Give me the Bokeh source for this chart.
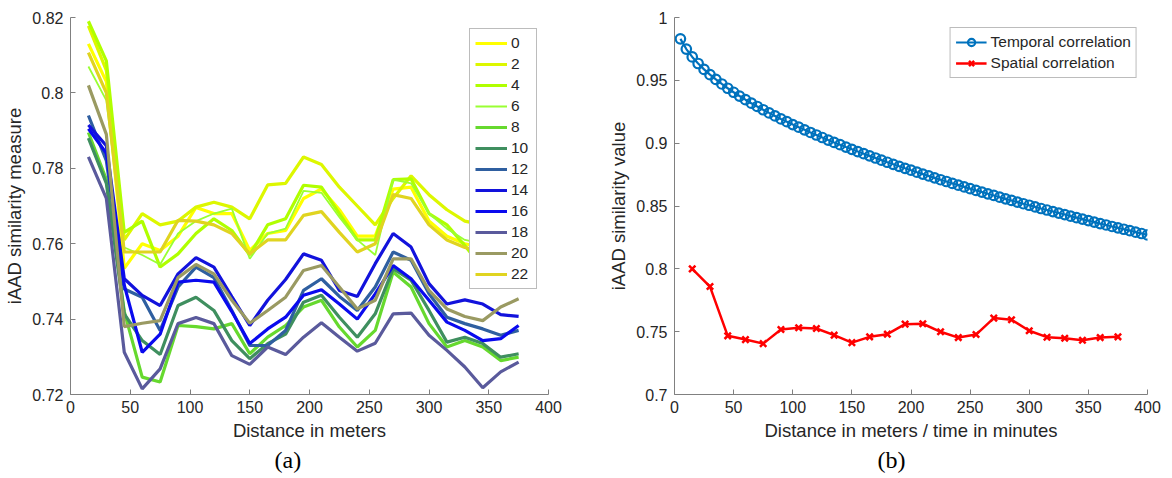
from bokeh.plotting import figure
from bokeh.layouts import row
from bokeh.models import FixedTicker, NumeralTickFormatter, Range1d, Title
from bokeh.embed import file_html
from bokeh.resources import INLINE

# ---------------- data: panel (a) ----------------
dist = [15, 30, 45, 60, 75, 90, 105, 120, 135, 150, 165, 180, 195,
        210, 225, 240, 255, 270, 285, 300, 315, 330, 345, 360, 375]

labels_a = ["0", "2", "4", "6", "8", "10", "12", "14", "16", "18", "20", "22"]

s0 = [0.813, 0.803, 0.7535, 0.760, 0.7582, 0.762, 0.7696, 0.768, 0.768, 0.7582, 0.7627, 0.7635, 0.772,
      0.7745, 0.769, 0.762, 0.762, 0.7745, 0.775, 0.766, 0.762, 0.760, 0.759, 0.758, 0.757]
s2 = [0.8178, 0.806, 0.761, 0.768, 0.765, 0.766, 0.7697, 0.771, 0.7697, 0.7666, 0.7756, 0.776, 0.783,
      0.781, 0.775, 0.770, 0.765, 0.772, 0.778, 0.773, 0.769, 0.766, 0.765, 0.763, 0.762]
s4 = [0.819, 0.8085, 0.763, 0.766, 0.7538, 0.7573, 0.7627, 0.7666, 0.7635, 0.757, 0.765, 0.7666, 0.7755,
      0.775, 0.768, 0.761, 0.761, 0.777, 0.7772, 0.768, 0.765, 0.7595, 0.7535, 0.753, 0.753]
s6 = [0.807, 0.798, 0.759, 0.757, 0.7545, 0.7627, 0.766, 0.768, 0.7693, 0.756, 0.7627, 0.764, 0.774,
      0.7735, 0.767, 0.761, 0.757, 0.777, 0.776, 0.768, 0.764, 0.761, 0.760, 0.759, 0.758]
s8 = [0.7895, 0.777, 0.742, 0.7246, 0.7233, 0.7383, 0.738, 0.7374, 0.7388, 0.7308, 0.7352, 0.7383, 0.7432,
      0.745, 0.7379, 0.7326, 0.737, 0.7525, 0.7485, 0.7388, 0.7326, 0.7343, 0.7326, 0.729, 0.7299]
s10 = [0.788, 0.776, 0.7414, 0.7343, 0.7306, 0.7436, 0.7458, 0.7423, 0.7343, 0.7295, 0.7335, 0.736, 0.7445,
       0.7463, 0.7405, 0.7352, 0.7414, 0.7534, 0.7503, 0.7423, 0.7339, 0.7352, 0.7335, 0.7299, 0.7308]
s12 = [0.794, 0.782, 0.748, 0.7458, 0.737, 0.7485, 0.7538, 0.751, 0.7423, 0.733, 0.733, 0.737, 0.7476,
       0.7507, 0.746, 0.7423, 0.7485, 0.7578, 0.7556, 0.7467, 0.7405, 0.7388, 0.7374, 0.7357, 0.737]
s14 = [0.7915, 0.786, 0.7507, 0.7463, 0.7436, 0.752, 0.7563, 0.7538, 0.746, 0.7383, 0.745, 0.7505, 0.7573,
       0.7556, 0.7476, 0.746, 0.7547, 0.7627, 0.7591, 0.7494, 0.744, 0.7451, 0.744, 0.7412, 0.7407]
s16 = [0.7905, 0.784, 0.749, 0.7312, 0.736, 0.7498, 0.7503, 0.7498, 0.742, 0.7335, 0.7374, 0.7405, 0.7463,
       0.7478, 0.744, 0.740, 0.7467, 0.7542, 0.7507, 0.745, 0.7392, 0.737, 0.7343, 0.7348, 0.7383]
s18 = [0.783, 0.772, 0.7312, 0.7215, 0.7268, 0.7388, 0.7404, 0.7388, 0.7303, 0.728, 0.7326, 0.7306, 0.7352,
       0.739, 0.7352, 0.7315, 0.7336, 0.7414, 0.7416, 0.7357, 0.7317, 0.7273, 0.7218, 0.726, 0.7286]
s20 = [0.802, 0.789, 0.738, 0.7389, 0.7396, 0.751, 0.7545, 0.752, 0.745, 0.7389, 0.7423, 0.7458, 0.7529,
       0.7542, 0.7485, 0.7427, 0.745, 0.756, 0.756, 0.7476, 0.7427, 0.7407, 0.7396, 0.7432, 0.7454]
s22 = [0.8107, 0.800, 0.7578, 0.7578, 0.7578, 0.7662, 0.766, 0.765, 0.7627, 0.7573, 0.761, 0.761, 0.7675,
       0.7685, 0.763, 0.7578, 0.760, 0.773, 0.772, 0.765, 0.761, 0.759, 0.758, 0.757, 0.757]

series_a = [s0, s2, s4, s6, s8, s10, s12, s14, s16, s18, s20, s22]
colors_a = ["#FFFF00", "#DDF700", "#B0FF00", "#99FF33", "#66D92E", "#3F8F5F",
            "#2F5FA0", "#1212DC", "#0A0AEE", "#5A5A9C", "#9A9A62", "#E0D420"]
widths_a = [3.2, 3.2, 3.2, 1.8, 3.2, 3.2, 3.2, 3.2, 3.2, 3.2, 3.2, 3.2]

# ---------------- data: panel (b) ----------------
t_x = list(range(5, 401, 5))
temporal = [0.9830, 0.9749, 0.9686, 0.9634, 0.9587, 0.9545, 0.9507, 0.9471, 0.9437, 0.9405,
            0.9375, 0.9346, 0.9318, 0.9292, 0.9266, 0.9241, 0.9217, 0.9193, 0.9171, 0.9148,
            0.9127, 0.9106, 0.9085, 0.9065, 0.9045, 0.9025, 0.9006, 0.8988, 0.8969, 0.8951,
            0.8933, 0.8916, 0.8899, 0.8882, 0.8865, 0.8848, 0.8832, 0.8816, 0.8800, 0.8785,
            0.8769, 0.8754, 0.8739, 0.8724, 0.8709, 0.8695, 0.8680, 0.8666, 0.8652, 0.8638,
            0.8624, 0.8611, 0.8597, 0.8584, 0.8570, 0.8557, 0.8544, 0.8531, 0.8518, 0.8506,
            0.8493, 0.8480, 0.8468, 0.8456, 0.8444, 0.8432, 0.8419, 0.8407, 0.8396, 0.8384,
            0.8372, 0.8360, 0.8349, 0.8337, 0.8326, 0.8315, 0.8304, 0.8292, 0.8281, 0.8270]
spatial = [0.800, 0.7859, 0.7467, 0.7437, 0.7405, 0.7517, 0.7531, 0.7525, 0.7472, 0.7413,
           0.7459, 0.748, 0.756, 0.7563, 0.7499, 0.7453, 0.7477, 0.7608, 0.7595, 0.7507,
           0.7456, 0.7448, 0.7432, 0.7453, 0.7459]

FONT = "Liberation Sans"
AXC = "#808080"
TXT = "#262626"


def style(p, xlabel, ylabel, yticks):
    p.outline_line_color = None
    p.xgrid.visible = False
    p.ygrid.visible = False
    p.xaxis.ticker = FixedTicker(ticks=[0, 50, 100, 150, 200, 250, 300, 350, 400])
    p.yaxis.ticker = FixedTicker(ticks=yticks)
    p.yaxis.formatter = NumeralTickFormatter(format="0.[00]")
    for ax in (p.xaxis[0], p.yaxis[0]):
        ax.axis_line_color = AXC
        ax.major_tick_line_color = AXC
        ax.major_tick_in = 5
        ax.major_tick_out = 0
        ax.minor_tick_line_color = None
        ax.major_label_text_font = FONT
        ax.major_label_text_font_size = "16px"
        ax.major_label_text_color = TXT
        ax.axis_label_text_font = FONT
        ax.axis_label_text_font_size = "18.5px"
        ax.axis_label_text_font_style = "normal"
        ax.axis_label_text_color = TXT
    p.xaxis.major_label_standoff = 6
    p.xaxis.axis_label_standoff = 4
    p.yaxis.major_label_standoff = 7
    p.yaxis.axis_label_standoff = 4
    p.xaxis.axis_label = xlabel
    p.yaxis.axis_label = ylabel


def panel_title(p, text, off):
    t = Title(text=text, align="left", offset=off, text_font="Liberation Serif",
              text_font_size="24px", text_font_style="normal", text_color="#000000",
              standoff=2)
    p.add_layout(t, "below")


def style_legend(lg, margin, gw):
    lg.location = "top_right"
    lg.margin = margin
    lg.padding = 5
    lg.spacing = 3
    lg.glyph_width = gw
    lg.glyph_height = 18
    lg.label_height = 18
    lg.label_standoff = 4
    lg.label_text_font = FONT
    lg.label_text_font_size = "15.5px"
    lg.label_text_color = TXT
    lg.border_line_color = "#7a7a7a"
    lg.background_fill_alpha = 1.0


# ---------------- panel (a) ----------------
p1 = figure(width=605, height=478, x_range=Range1d(0, 400), y_range=Range1d(0.72, 0.82),
            output_backend="svg", toolbar_location=None,
            min_border_left=70, min_border_right=57, min_border_top=17, min_border_bottom=84)
for lab, ys, c, w in zip(labels_a, series_a, colors_a, widths_a):
    p1.line(dist, ys, line_color=c, line_width=w, legend_label=lab)
style(p1, "Distance in meters", "iAAD similarity measure",
      [0.72, 0.74, 0.76, 0.78, 0.80, 0.82])
panel_title(p1, "(a)", 204)
style_legend(p1.legend[0], 11, 32)

# ---------------- panel (b) ----------------
p2 = figure(width=567, height=478, x_range=Range1d(0, 400), y_range=Range1d(0.7, 1.0),
            output_backend="svg", toolbar_location=None,
            min_border_left=64, min_border_right=25, min_border_top=17, min_border_bottom=84)
p2.line(t_x, temporal, line_color="#0072BD", line_width=2.2, legend_label="Temporal correlation")
p2.scatter(t_x, temporal, marker="circle", size=9.5, fill_color=None, line_color="#0072BD",
           line_width=2.2, legend_label="Temporal correlation")
p2.line(dist, spatial, line_color="#FF0000", line_width=2.5, legend_label="Spatial correlation")
p2.scatter(dist, spatial, marker="x", size=9, line_color="#FF0000", line_width=2.5,
           legend_label="Spatial correlation")
style(p2, "Distance in meters / time in minutes", "iAAD similarity value",
      [0.7, 0.75, 0.8, 0.85, 0.9, 0.95, 1.0])
panel_title(p2, "(b)", 203)
style_legend(p2.legend[0], 10, 31)

layout = row(p1, p2)
open("out.html", "w").write(file_html(layout, INLINE))
